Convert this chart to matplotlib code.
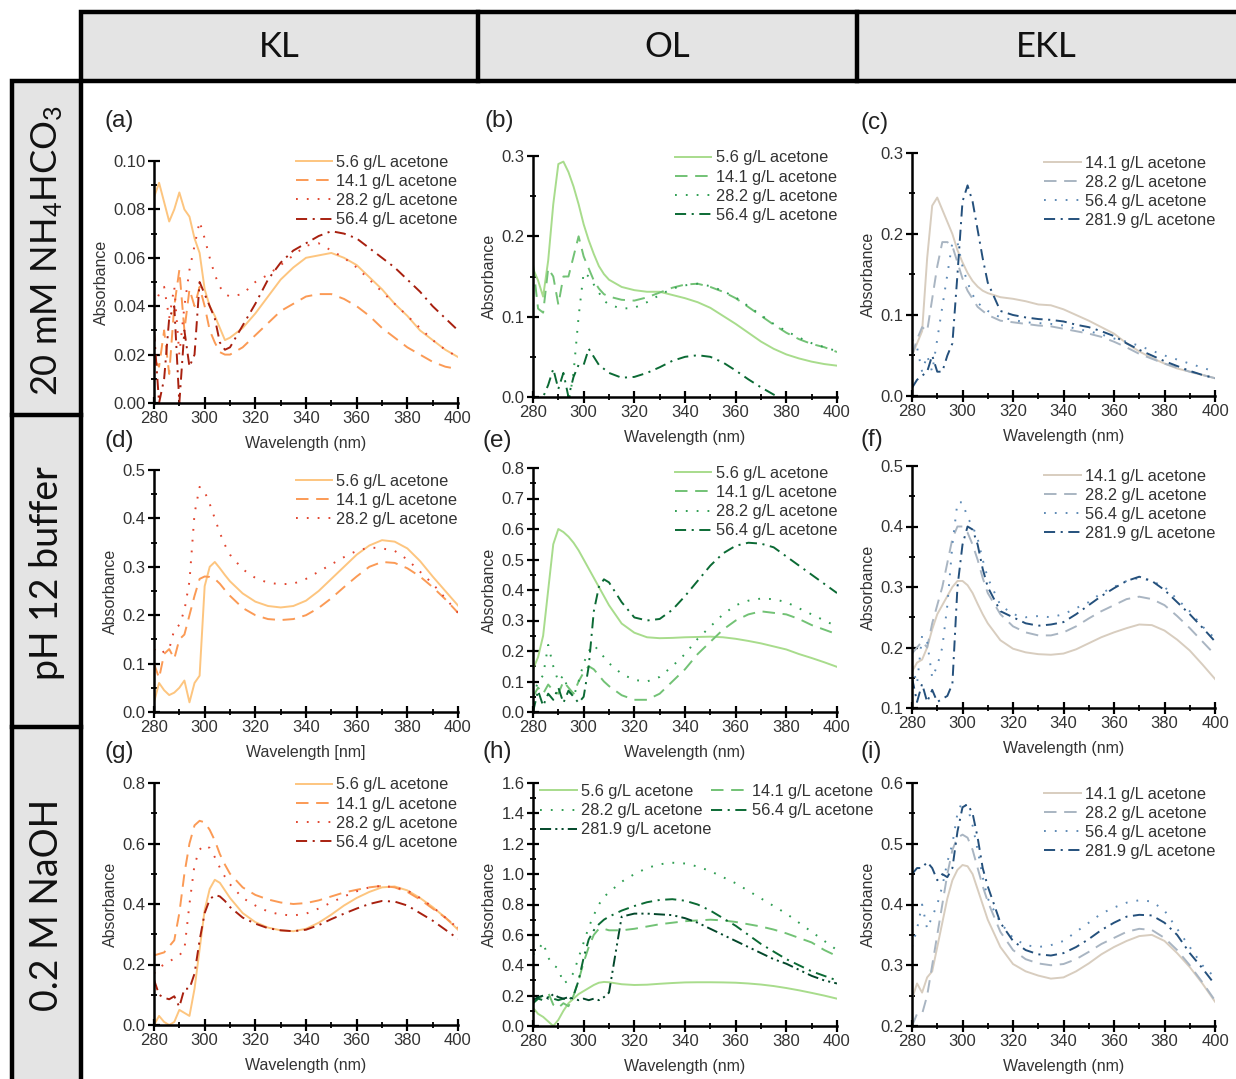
import matplotlib
matplotlib.use("Agg")
import matplotlib.pyplot as plt
from matplotlib.patches import Rectangle
from matplotlib.ticker import MultipleLocator, FormatStrFormatter

plt.rcParams['font.family'] = ['Liberation Sans', 'DejaVu Sans']
plt.rcParams['lines.scale_dashes'] = False
plt.rcParams['mathtext.fontset'] = 'custom'
plt.rcParams['mathtext.rm'] = 'Lato'
plt.rcParams['mathtext.it'] = 'Lato'
plt.rcParams['mathtext.bf'] = 'Lato'

# ---------------- data ----------------
WL = [280, 282, 284, 286, 288, 290, 292, 294, 296, 298, 300, 302, 304, 306, 308, 310,
      315, 320, 325, 330, 335, 340, 345, 350, 355, 360, 365, 370, 375, 380, 385, 390, 395, 400]

COLUMNS = ['KL', 'OL', 'EKL']
ROWS = ['20 mM NH$_4$HCO$_3$', 'pH 12 buffer', '0.2 M NaOH']

# (a) KL, NH4HCO3
a_56 = [0.085, 0.091, 0.083, 0.075, 0.080, 0.087, 0.080, 0.077, 0.068, 0.062, 0.047, 0.040, 0.036, 0.031, 0.026, 0.027,
        0.031, 0.037, 0.044, 0.051, 0.056, 0.060, 0.061, 0.062, 0.060, 0.057, 0.052, 0.047, 0.041, 0.036, 0.030, 0.026, 0.022, 0.019]
a_141 = [0.018, 0.015, 0.030, 0.012, 0.040, 0.055, 0.030, 0.047, 0.040, 0.048, 0.040, 0.030, 0.025, 0.021, 0.020, 0.020,
         0.023, 0.028, 0.033, 0.038, 0.041, 0.044, 0.045, 0.045, 0.043, 0.040, 0.036, 0.031, 0.027, 0.023, 0.020, 0.017, 0.015, 0.014]
a_282 = [0.040, 0.045, 0.048, 0.035, 0.048, 0.020, 0.040, 0.055, 0.065, 0.075, 0.068, 0.060, 0.053, 0.048, 0.045, 0.044,
         0.045, 0.050, 0.053, 0.057, 0.061, 0.065, 0.066, 0.063, 0.060, 0.056, 0.051, 0.046, 0.041, 0.036, 0.031, 0.026, 0.022, 0.019]
a_564 = [0.030, 0.000, 0.010, 0.035, 0.040, 0.000, 0.030, 0.015, 0.020, 0.050, 0.045, 0.040, 0.035, 0.025, 0.022, 0.023,
         0.032, 0.041, 0.051, 0.058, 0.063, 0.066, 0.069, 0.071, 0.070, 0.068, 0.064, 0.060, 0.056, 0.051, 0.046, 0.040, 0.035, 0.030]

# (b) OL, NH4HCO3
b_56 = [0.160, 0.145, 0.125, 0.170, 0.240, 0.290, 0.293, 0.280, 0.262, 0.240, 0.215, 0.195, 0.178, 0.163, 0.153, 0.146,
        0.137, 0.133, 0.131, 0.131, 0.127, 0.123, 0.118, 0.111, 0.101, 0.091, 0.080, 0.069, 0.060, 0.053, 0.048, 0.044, 0.041, 0.039]
b_141 = [0.165, 0.110, 0.105, 0.160, 0.150, 0.115, 0.150, 0.150, 0.175, 0.200, 0.175, 0.160, 0.145, 0.135, 0.128, 0.125,
         0.121, 0.120, 0.124, 0.130, 0.136, 0.140, 0.141, 0.137, 0.131, 0.123, 0.112, 0.101, 0.090, 0.080, 0.072, 0.066, 0.062, 0.056]
b_282 = [-0.01, -0.01, -0.01, -0.01, -0.01, -0.01, -0.01, -0.01, 0.030, 0.100, 0.155, 0.150, 0.140, 0.130, 0.120, 0.115,
         0.110, 0.111, 0.118, 0.127, 0.135, 0.139, 0.141, 0.138, 0.132, 0.124, 0.113, 0.102, 0.091, 0.082, 0.074, 0.067, 0.062, 0.057]
b_564 = [-0.01, -0.01, 0.000, 0.015, 0.035, 0.010, 0.030, 0.000, 0.025, 0.040, 0.040, 0.060, 0.050, 0.040, 0.035, 0.030,
         0.024, 0.025, 0.030, 0.037, 0.045, 0.050, 0.052, 0.050, 0.043, 0.033, 0.022, 0.012, 0.003, -0.005, -0.01, -0.01, -0.01, -0.01]

# (c) EKL, NH4HCO3
c_141 = [0.050, 0.065, 0.080, 0.170, 0.235, 0.245, 0.230, 0.215, 0.200, 0.180, 0.165, 0.152, 0.142, 0.135, 0.130, 0.127,
         0.122, 0.120, 0.117, 0.113, 0.112, 0.107, 0.100, 0.093, 0.085, 0.077, 0.065, 0.055, 0.047, 0.040, 0.034, 0.030, 0.026, 0.022]
c_282 = [0.050, 0.070, 0.085, 0.080, 0.120, 0.160, 0.190, 0.190, 0.185, 0.165, 0.145, 0.130, 0.120, 0.110, 0.105, 0.100,
         0.093, 0.091, 0.089, 0.087, 0.086, 0.083, 0.080, 0.077, 0.073, 0.067, 0.060, 0.052, 0.046, 0.040, 0.035, 0.030, 0.026, 0.022]
c_564 = [0.070, 0.060, 0.030, 0.050, 0.030, 0.070, 0.110, 0.150, 0.190, 0.190, 0.160, 0.140, 0.125, 0.115, 0.110, 0.105,
         0.097, 0.094, 0.091, 0.090, 0.089, 0.087, 0.083, 0.080, 0.076, 0.071, 0.067, 0.062, 0.056, 0.050, 0.045, 0.040, 0.035, 0.030]
c_2819 = [0.010, 0.020, 0.025, 0.030, 0.050, 0.030, 0.030, 0.050, 0.065, 0.150, 0.240, 0.260, 0.240, 0.205, 0.170, 0.140,
          0.105, 0.100, 0.097, 0.095, 0.094, 0.092, 0.088, 0.085, 0.080, 0.074, 0.065, 0.057, 0.050, 0.043, 0.037, 0.031, 0.026, 0.022]

# (d) KL, pH 12
d_56 = [0.020, 0.060, 0.045, 0.035, 0.040, 0.050, 0.065, 0.020, 0.060, 0.075, 0.260, 0.300, 0.310, 0.297, 0.283, 0.270,
        0.245, 0.228, 0.219, 0.216, 0.219, 0.230, 0.250, 0.275, 0.300, 0.325, 0.344, 0.355, 0.352, 0.338, 0.312, 0.280, 0.250, 0.220]
d_141 = [0.100, 0.070, 0.120, 0.130, 0.110, 0.150, 0.160, 0.200, 0.240, 0.275, 0.280, 0.279, 0.275, 0.265, 0.252, 0.240,
         0.215, 0.200, 0.192, 0.190, 0.192, 0.200, 0.215, 0.235, 0.258, 0.280, 0.300, 0.310, 0.308, 0.297, 0.280, 0.258, 0.233, 0.205]
d_282 = [0.130, 0.120, 0.125, 0.130, 0.170, 0.180, 0.210, 0.270, 0.410, 0.465, 0.455, 0.430, 0.400, 0.370, 0.345, 0.325,
         0.295, 0.277, 0.267, 0.264, 0.265, 0.275, 0.290, 0.305, 0.320, 0.333, 0.340, 0.338, 0.333, 0.315, 0.290, 0.265, 0.235, 0.205]

# (e) OL, pH 12
e_56 = [0.140, 0.180, 0.250, 0.400, 0.550, 0.600, 0.590, 0.575, 0.555, 0.530, 0.500, 0.470, 0.440, 0.410, 0.380, 0.350,
        0.290, 0.260, 0.245, 0.242, 0.243, 0.245, 0.246, 0.247, 0.245, 0.240, 0.233, 0.225, 0.215, 0.205, 0.190, 0.177, 0.163, 0.148]
e_141 = [0.050, 0.080, 0.060, 0.090, 0.070, 0.060, 0.100, 0.080, 0.060, 0.100, 0.130, 0.150, 0.140, 0.120, 0.100, 0.085,
         0.055, 0.040, 0.040, 0.060, 0.100, 0.140, 0.190, 0.230, 0.270, 0.300, 0.320, 0.330, 0.325, 0.320, 0.305, 0.285, 0.270, 0.255]
e_282 = [0.050, 0.100, 0.120, 0.220, 0.150, 0.100, 0.120, 0.070, 0.050, 0.100, 0.160, 0.200, 0.220, 0.200, 0.180, 0.160,
         0.125, 0.105, 0.100, 0.115, 0.150, 0.190, 0.240, 0.280, 0.320, 0.350, 0.365, 0.372, 0.370, 0.360, 0.340, 0.320, 0.300, 0.280]
e_564 = [0.000, 0.070, 0.020, 0.060, 0.040, 0.080, 0.030, 0.070, 0.050, 0.030, 0.050, 0.150, 0.330, 0.410, 0.435, 0.425,
         0.360, 0.310, 0.300, 0.305, 0.335, 0.380, 0.430, 0.480, 0.520, 0.545, 0.555, 0.552, 0.540, 0.510, 0.480, 0.450, 0.420, 0.390]

# (f) EKL, pH 12
f_141 = [0.160, 0.175, 0.180, 0.200, 0.230, 0.255, 0.270, 0.285, 0.300, 0.310, 0.310, 0.303, 0.290, 0.272, 0.255, 0.240,
         0.212, 0.198, 0.192, 0.189, 0.188, 0.190, 0.197, 0.207, 0.217, 0.225, 0.232, 0.238, 0.237, 0.228, 0.213, 0.195, 0.172, 0.148]
f_282 = [0.190, 0.200, 0.210, 0.200, 0.240, 0.270, 0.300, 0.340, 0.380, 0.400, 0.400, 0.390, 0.370, 0.345, 0.315, 0.290,
         0.255, 0.235, 0.225, 0.220, 0.220, 0.225, 0.235, 0.248, 0.260, 0.270, 0.280, 0.284, 0.280, 0.270, 0.252, 0.232, 0.210, 0.188]
f_564 = [0.170, 0.140, 0.220, 0.210, 0.150, 0.170, 0.200, 0.270, 0.370, 0.440, 0.440, 0.415, 0.400, 0.380, 0.345, 0.315,
         0.270, 0.255, 0.250, 0.252, 0.250, 0.255, 0.265, 0.275, 0.290, 0.300, 0.310, 0.315, 0.310, 0.300, 0.280, 0.260, 0.235, 0.215]
f_2819 = [0.150, 0.110, 0.140, 0.110, 0.130, 0.110, 0.115, 0.120, 0.140, 0.300, 0.370, 0.400, 0.395, 0.370, 0.330, 0.300,
          0.260, 0.250, 0.240, 0.236, 0.238, 0.242, 0.255, 0.270, 0.285, 0.298, 0.310, 0.317, 0.310, 0.295, 0.275, 0.255, 0.233, 0.210]

# (g) KL, NaOH
g_56 = [0.000, 0.030, 0.010, 0.000, 0.010, 0.050, 0.040, 0.030, 0.120, 0.250, 0.380, 0.450, 0.480, 0.470, 0.445, 0.420,
        0.370, 0.340, 0.322, 0.313, 0.310, 0.318, 0.338, 0.365, 0.395, 0.420, 0.440, 0.455, 0.458, 0.445, 0.420, 0.390, 0.355, 0.315]
g_141 = [0.230, 0.235, 0.240, 0.260, 0.280, 0.370, 0.500, 0.600, 0.660, 0.675, 0.670, 0.645, 0.610, 0.565, 0.530, 0.500,
         0.455, 0.430, 0.415, 0.405, 0.400, 0.403, 0.412, 0.425, 0.438, 0.447, 0.455, 0.460, 0.455, 0.440, 0.415, 0.385, 0.355, 0.320]
g_282 = [0.170, 0.190, 0.200, 0.210, 0.220, 0.230, 0.250, 0.400, 0.530, 0.580, 0.595, 0.585, 0.555, 0.520, 0.490, 0.465,
         0.420, 0.395, 0.375, 0.365, 0.362, 0.368, 0.385, 0.405, 0.425, 0.442, 0.455, 0.460, 0.455, 0.445, 0.420, 0.390, 0.355, 0.320]
g_564 = [0.150, 0.100, 0.090, 0.085, 0.095, 0.060, 0.120, 0.120, 0.170, 0.280, 0.370, 0.415, 0.430, 0.425, 0.410, 0.390,
         0.355, 0.335, 0.320, 0.313, 0.310, 0.315, 0.330, 0.350, 0.368, 0.385, 0.400, 0.410, 0.408, 0.395, 0.370, 0.345, 0.315, 0.285]

# (h) OL, NaOH
h_56 = [0.120, 0.080, 0.060, 0.030, 0.000, 0.040, 0.100, 0.150, 0.180, 0.210, 0.230, 0.250, 0.270, 0.285, 0.290, 0.288,
        0.275, 0.270, 0.272, 0.278, 0.283, 0.287, 0.288, 0.288, 0.287, 0.285, 0.280, 0.273, 0.263, 0.250, 0.235, 0.218, 0.200, 0.180]
h_141 = [0.150, 0.180, 0.200, 0.220, 0.140, 0.120, 0.150, 0.130, 0.200, 0.300, 0.420, 0.520, 0.600, 0.640, 0.640, 0.630,
         0.630, 0.640, 0.655, 0.670, 0.680, 0.690, 0.695, 0.700, 0.695, 0.685, 0.670, 0.655, 0.635, 0.610, 0.580, 0.550, 0.500, 0.460]
h_282 = [0.470, 0.500, 0.550, 0.450, 0.400, 0.380, 0.280, 0.300, 0.350, 0.450, 0.550, 0.650, 0.730, 0.800, 0.850, 0.880,
         0.950, 1.000, 1.040, 1.065, 1.075, 1.070, 1.050, 1.020, 0.980, 0.940, 0.890, 0.840, 0.790, 0.740, 0.680, 0.620, 0.560, 0.500]
h_564 = [0.150, 0.180, 0.170, 0.190, 0.180, 0.170, 0.180, 0.170, 0.200, 0.300, 0.450, 0.570, 0.630, 0.670, 0.700, 0.720,
         0.760, 0.790, 0.815, 0.830, 0.835, 0.825, 0.800, 0.760, 0.710, 0.660, 0.600, 0.540, 0.490, 0.440, 0.400, 0.360, 0.330, 0.300]
h_2819 = [0.170, 0.190, 0.200, 0.180, 0.210, 0.190, 0.180, 0.190, 0.180, 0.170, 0.180, 0.170, 0.180, 0.170, 0.190, 0.220,
          0.720, 0.740, 0.740, 0.735, 0.730, 0.710, 0.680, 0.640, 0.600, 0.560, 0.520, 0.480, 0.440, 0.410, 0.370, 0.330, 0.300, 0.280]

# (i) EKL, NaOH
i_141 = [0.245, 0.270, 0.255, 0.280, 0.290, 0.330, 0.370, 0.410, 0.440, 0.457, 0.465, 0.463, 0.450, 0.425, 0.400, 0.375,
         0.330, 0.302, 0.290, 0.283, 0.278, 0.280, 0.290, 0.303, 0.318, 0.330, 0.340, 0.348, 0.350, 0.340, 0.320, 0.297, 0.270, 0.240]
i_282 = [0.200, 0.220, 0.220, 0.250, 0.300, 0.350, 0.400, 0.450, 0.490, 0.510, 0.515, 0.510, 0.490, 0.460, 0.430, 0.405,
         0.355, 0.325, 0.310, 0.303, 0.300, 0.302, 0.310, 0.322, 0.335, 0.345, 0.355, 0.360, 0.358, 0.345, 0.325, 0.300, 0.272, 0.242]
i_564 = [0.330, 0.360, 0.400, 0.360, 0.380, 0.400, 0.430, 0.470, 0.500, 0.550, 0.570, 0.560, 0.530, 0.490, 0.445, 0.410,
         0.370, 0.345, 0.333, 0.330, 0.333, 0.340, 0.355, 0.370, 0.385, 0.395, 0.403, 0.407, 0.405, 0.390, 0.360, 0.330, 0.300, 0.280]
i_2819 = [0.450, 0.460, 0.460, 0.470, 0.460, 0.440, 0.450, 0.445, 0.460, 0.520, 0.560, 0.565, 0.550, 0.510, 0.460, 0.430,
          0.370, 0.340, 0.325, 0.318, 0.316, 0.320, 0.330, 0.343, 0.358, 0.370, 0.380, 0.383, 0.382, 0.370, 0.350, 0.320, 0.295, 0.268]

LABELS_KL = ['5.6 g/L acetone', '14.1 g/L acetone', '28.2 g/L acetone', '56.4 g/L acetone']
LABELS_OL5 = ['5.6 g/L acetone', '14.1 g/L acetone', '28.2 g/L acetone', '56.4 g/L acetone', '281.9 g/L acetone']
LABELS_EKL = ['14.1 g/L acetone', '28.2 g/L acetone', '56.4 g/L acetone', '281.9 g/L acetone']

# ---------------- styles ----------------
C_KL = ['#fdc57f', '#fb9a55', '#e2452f', '#a8200f']
C_OL = ['#a8dc8c', '#72c275', '#2f9e52', '#0b6a34', '#02472a']
C_EKL = ['#d8cdbf', '#a9b5c2', '#5e8ab5', '#24507c']
STYLES = ['-', (0, (9, 5.5)), (0, (1.3, 6.5)), (0, (8, 4, 1.5, 4)), (0, (8, 3, 1.5, 3, 1.5, 3))]

W, H = 1236, 1079
fig = plt.figure(figsize=(W / 100, H / 100), dpi=100)

# background frame axes (pixel coordinates)
bg = fig.add_axes([0, 0, 1, 1], zorder=-5)
bg.set_xlim(0, W)
bg.set_ylim(H, 0)
bg.axis('off')
GRAY = '#e4e4e4'
LW = 3.2
bg.add_patch(Rectangle((81, 12), 1160, 69, facecolor=GRAY, edgecolor='black', lw=LW))
for xd in (478, 857):
    bg.plot([xd, xd], [12, 81], color='black', lw=LW)
bg.add_patch(Rectangle((12, 81), 69, 1010, facecolor=GRAY, edgecolor='black', lw=LW))
for yd in (415, 727):
    bg.plot([12, 81], [yd, yd], color='black', lw=LW)
for xc, t in zip((279, 667, 1046), COLUMNS):
    bg.text(xc, 47, t, ha='center', va='center', fontsize=25, family='Lato', color='#111111')
for yc, t, fs in zip((251, 573, 905), ROWS, (26, 27, 27)):
    bg.text(47, yc, t, ha='center', va='center', rotation=90, fontsize=fs, family='Lato', color='#111111')


def px_axes(x0, x1, ytop, ybot):
    return fig.add_axes([x0 / W, 1 - ybot / H, (x1 - x0) / W, (ybot - ytop) / H])


panels = [
    # letter, letter pos, box, ylim, ystep, fmt, series, labels, colors, legend anchor, xlabel
    ('(a)', (105, 121), (154, 458, 161, 403), (0, 0.10), 0.02, '%.2f', [a_56, a_141, a_282, a_564], LABELS_KL, C_KL, (1.0, 1.025), 'Wavelength (nm)'),
    ('(b)', (484, 121), (533, 837, 156, 397), (0, 0.3), 0.1, '%.1f', [b_56, b_141, b_282, b_564], LABELS_KL, C_OL, (1.0, 1.023), 'Wavelength (nm)'),
    ('(c)', (861, 123), (912, 1215, 153, 396), (0, 0.3), 0.1, '%.1f', [c_141, c_282, c_564, c_2819], LABELS_EKL, C_EKL, (1.0, 0.988), 'Wavelength (nm)'),
    ('(d)', (104, 441), (154, 458, 470, 712), (0, 0.5), 0.1, '%.1f', [d_56, d_141, d_282], LABELS_KL[:3], C_KL, (1.0, 0.984), 'Wavelength [nm]'),
    ('(e)', (483, 441), (533, 837, 468, 712), (0, 0.8), 0.1, '%.1f', [e_56, e_141, e_282, e_564], LABELS_KL, C_OL, (1.0, 1.008), 'Wavelength (nm)'),
    ('(f)', (861, 440), (912, 1215, 466, 708), (0.1, 0.5), 0.1, '%.1f', [f_141, f_282, f_564, f_2819], LABELS_EKL, C_EKL, (1.0, 0.988), 'Wavelength (nm)'),
    ('(g)', (104, 752), (154, 458, 783, 1025), (0, 0.8), 0.2, '%.1f', [g_56, g_141, g_282, g_564], LABELS_KL, C_KL, (1.0, 1.023), 'Wavelength (nm)'),
    ('(h)', (483, 752), (533, 837, 783, 1026), (0, 1.6), 0.2, '%.1f', [h_56, h_141, h_282, h_564, h_2819], LABELS_OL5, C_OL, (1.12, 0.995), 'Wavelength (nm)'),
    ('(i)', (861, 752), (912, 1215, 783, 1026), (0.2, 0.6), 0.1, '%.1f', [i_141, i_282, i_564, i_2819], LABELS_EKL, C_EKL, (1.0, 0.985), 'Wavelength (nm)'),
]

TXT = '#333333'
for letter, lpos, box, ylim, ystep, fmt, series, labels, colors, anchor, xlabel in panels:
    ax = px_axes(*box)
    ax.patch.set_alpha(0)
    handles = []
    for k, (ys, lab) in enumerate(zip(series, labels)):
        h, = ax.plot(WL, ys, color=colors[k], lw=1.4, linestyle=STYLES[k], label=lab)
        handles.append(h)
    ax.set_xlim(280, 400)
    ax.set_ylim(*ylim)
    ax.xaxis.set_major_locator(MultipleLocator(20))
    ax.xaxis.set_minor_locator(MultipleLocator(10))
    ax.yaxis.set_major_locator(MultipleLocator(ystep))
    ax.yaxis.set_minor_locator(MultipleLocator(ystep / 2))
    ax.yaxis.set_major_formatter(FormatStrFormatter(fmt))
    for s in ('top', 'right'):
        ax.spines[s].set_visible(False)
    for s in ('left', 'bottom'):
        ax.spines[s].set_linewidth(1.8)
    ax.tick_params(which='major', direction='inout', length=8, width=1.6, labelsize=12, labelcolor=TXT, pad=2)
    ax.tick_params(which='minor', direction='inout', length=5, width=1.3)
    ax.set_ylabel('Absorbance', fontsize=11.5, color=TXT, labelpad=3)
    ax.set_xlabel(xlabel, fontsize=11.5, color=TXT, labelpad=7)
    common = dict(frameon=False, fontsize=11.8, handlelength=2.25, handletextpad=0.25,
                  labelspacing=0.25, borderaxespad=0, borderpad=0)
    if letter == '(h)':
        order = [0, 2, 4, 1, 3]
        leg = ax.legend([handles[j] for j in order], [labels[j] for j in order], ncol=2,
                        loc='upper right', bbox_to_anchor=anchor, columnspacing=0.0, **common)
    else:
        leg = ax.legend(handles, labels, loc='upper right', bbox_to_anchor=anchor, **common)
    for t in leg.get_texts():
        t.set_color(TXT)
    fig.text(lpos[0] / W, 1 - lpos[1] / H, letter, fontsize=17.5, color='#222222', ha='left', va='center')

fig.savefig('out.png', dpi=100)
